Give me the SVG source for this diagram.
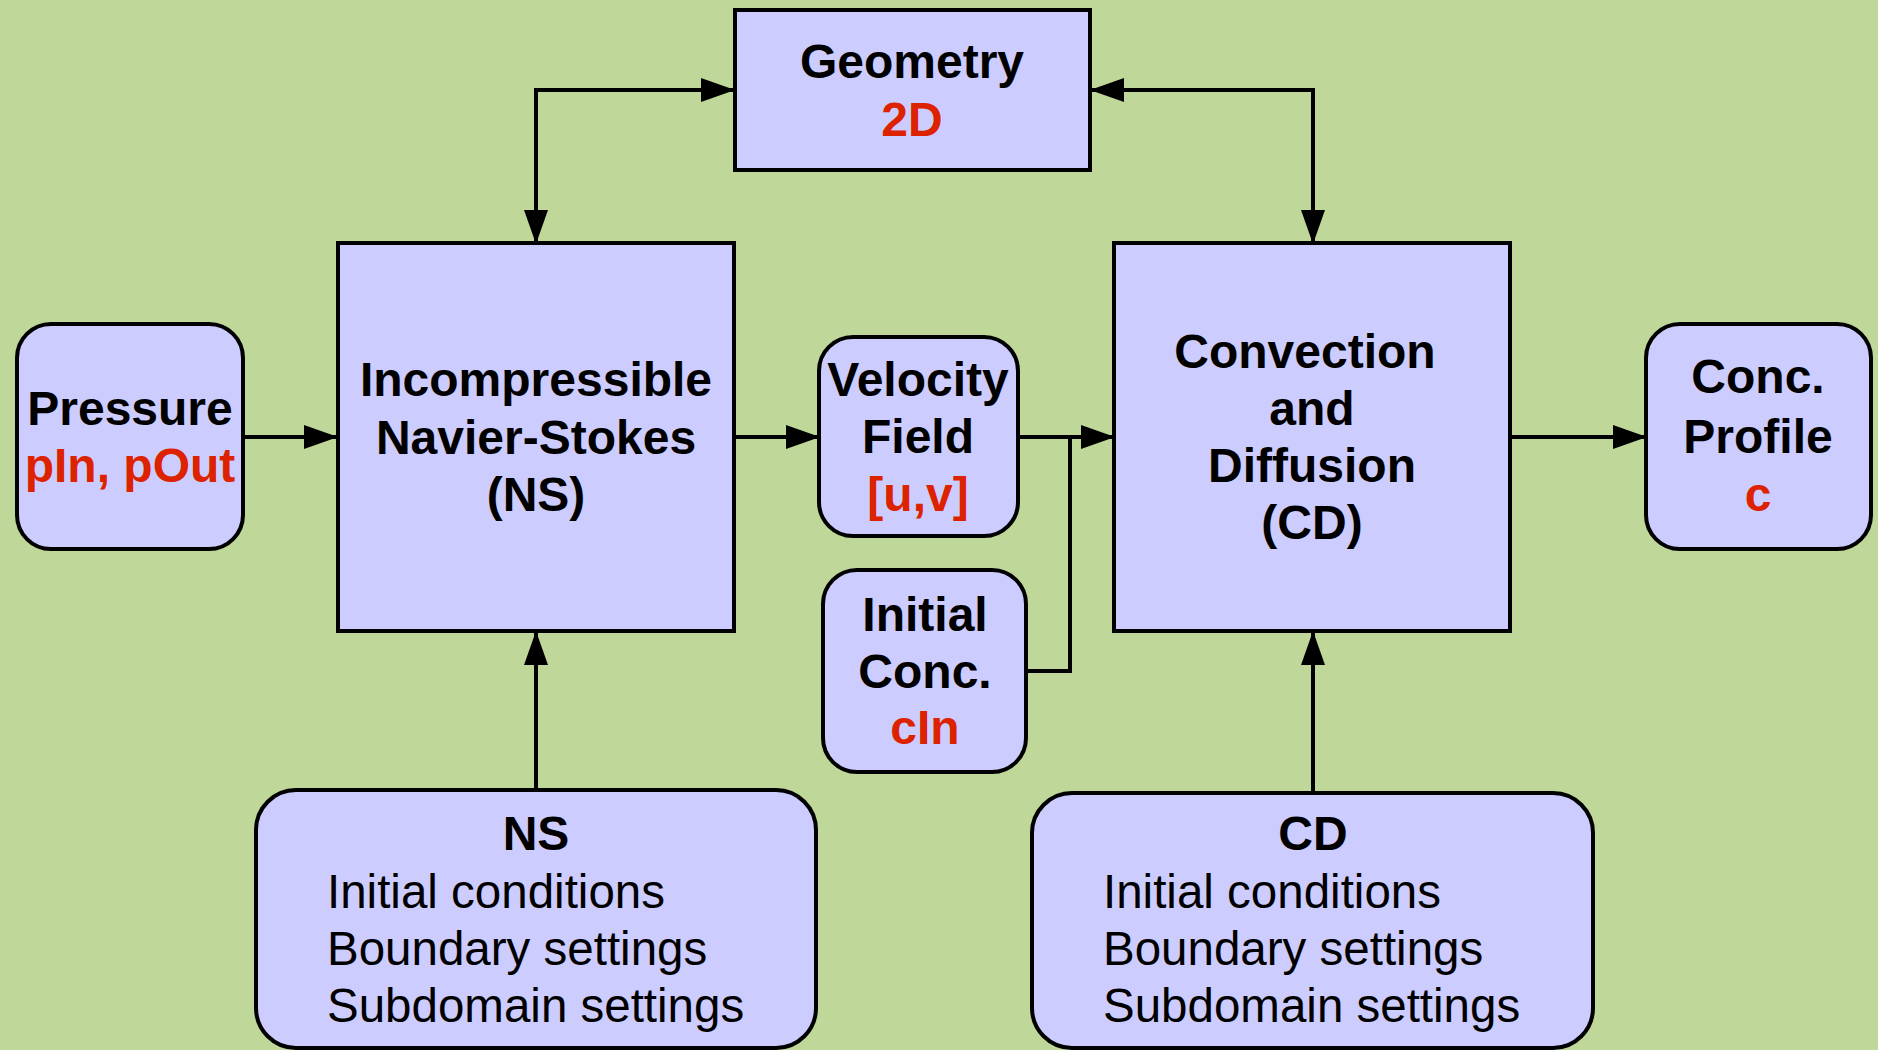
<svg xmlns="http://www.w3.org/2000/svg" width="1878" height="1050" viewBox="0 0 1878 1050">
<defs>
<marker id="ah" markerUnits="userSpaceOnUse" markerWidth="34" markerHeight="24" viewBox="0 0 34 24" refX="33" refY="12" orient="auto">
<path d="M0,0 L34,12 L0,24 Z" fill="#000"/>
</marker>
</defs>
<style>
.box{fill:#ccccff;stroke:#000;stroke-width:4}
.t{font-family:"Liberation Sans",Arial,sans-serif;font-weight:bold;font-size:48px;fill:#000;text-anchor:middle}
.r{fill:#dd2200}
.n{font-family:"Liberation Sans",Arial,sans-serif;font-size:47.5px;fill:#000}
.c{fill:none;stroke:#000;stroke-width:4}
</style>
<rect width="1878" height="1050" fill="#bfd89a"/>
<g id="connectors">
<path class="c" d="M242,437 H337" marker-end="url(#ah)"/>
<path class="c" d="M734,437 H819" marker-end="url(#ah)"/>
<path class="c" d="M1018,437 H1114" marker-end="url(#ah)"/>
<path class="c" d="M1026,671 H1070 V437"/>
<path class="c" d="M1510,437 H1646" marker-end="url(#ah)"/>
<path class="c" d="M536,790 V632" marker-end="url(#ah)"/>
<path class="c" d="M1313,793 V632" marker-end="url(#ah)"/>
<path class="c" d="M536,150 V90 H734" marker-end="url(#ah)"/>
<path class="c" d="M536,150 V243" marker-end="url(#ah)"/>
<path class="c" d="M1313,150 V90 H1091" marker-end="url(#ah)"/>
<path class="c" d="M1313,150 V243" marker-end="url(#ah)"/>
</g>
<g id="geometry">
<rect class="box" x="735" y="10" width="355" height="160"/>
<text class="t" x="912" y="78">Geometry</text>
<text class="t r" x="912" y="136">2D</text>
</g>
<g id="pressure">
<rect class="box" x="17" y="324" width="226" height="225" rx="34"/>
<text class="t" x="130" y="425">Pressure</text>
<text class="t r" x="130" y="482">pIn, pOut</text>
</g>
<g id="navier-stokes">
<rect class="box" x="338" y="243" width="396" height="388"/>
<text class="t" x="536" y="396">Incompressible</text>
<text class="t" x="536" y="454">Navier-Stokes</text>
<text class="t" x="536" y="511">(NS)</text>
</g>
<g id="velocity">
<rect class="box" x="819" y="337" width="199" height="199" rx="34"/>
<text class="t" x="918" y="396">Velocity</text>
<text class="t" x="918" y="453">Field</text>
<text class="t r" x="918" y="511">[u,v]</text>
</g>
<g id="initial-conc">
<rect class="box" x="823" y="570" width="203" height="202" rx="34"/>
<text class="t" x="925" y="631">Initial</text>
<text class="t" x="925" y="688">Conc.</text>
<text class="t r" x="925" y="744">cIn</text>
</g>
<g id="convection-diffusion">
<rect class="box" x="1114" y="243" width="396" height="388"/>
<text class="t" x="1305" y="368">Convection</text>
<text class="t" x="1312" y="425">and</text>
<text class="t" x="1312" y="482">Diffusion</text>
<text class="t" x="1312" y="539">(CD)</text>
</g>
<g id="conc-profile">
<rect class="box" x="1646" y="324" width="225" height="225" rx="34"/>
<text class="t" x="1758" y="393">Conc.</text>
<text class="t" x="1758" y="453">Profile</text>
<text class="t r" x="1758" y="511">c</text>
</g>
<g id="ns-settings">
<rect class="box" x="256" y="790" width="560" height="258" rx="40"/>
<text class="t" x="536" y="850">NS</text>
<text class="n" x="327" y="908">Initial conditions</text>
<text class="n" x="327" y="965">Boundary settings</text>
<text class="n" x="327" y="1022">Subdomain settings</text>
</g>
<g id="cd-settings">
<rect class="box" x="1032" y="793" width="561" height="255" rx="40"/>
<text class="t" x="1313" y="850">CD</text>
<text class="n" x="1103" y="908">Initial conditions</text>
<text class="n" x="1103" y="965">Boundary settings</text>
<text class="n" x="1103" y="1022">Subdomain settings</text>
</g>
</svg>
